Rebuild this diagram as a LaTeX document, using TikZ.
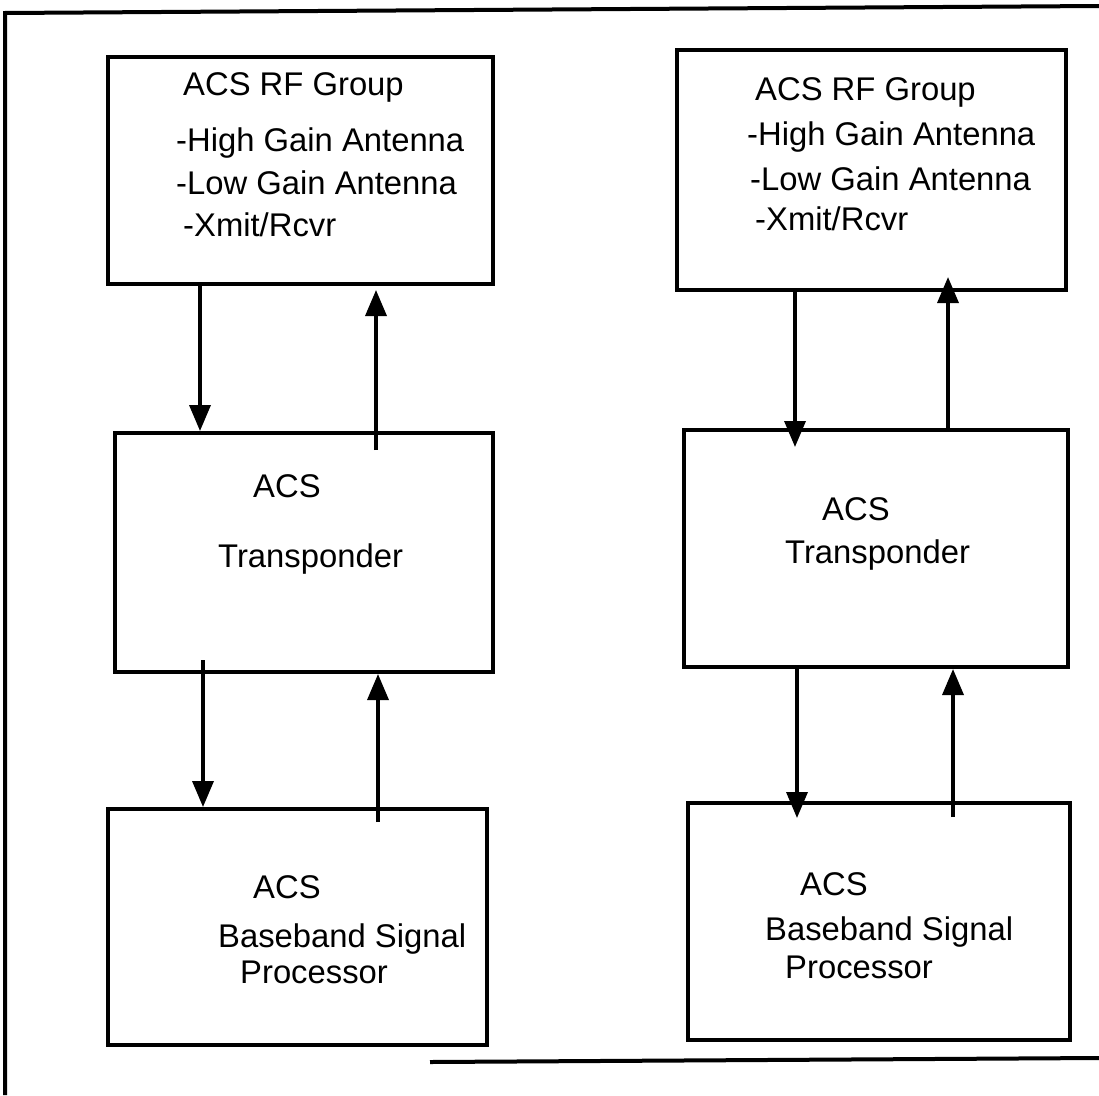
\documentclass[tikz,border=0pt]{standalone}
\usepackage{fontspec}
\setmainfont{Liberation Sans}
\usetikzlibrary{arrows.meta}
\begin{document}
\begin{tikzpicture}[x=1pt,y=-1pt,
  blk/.style={draw=black, line width=4pt, rectangle, inner sep=0pt, fill=none},
  lbl/.style={anchor=base west, inner sep=0pt, font=\fontsize{32.8}{38}\selectfont},
  flow/.style={line width=3.5pt, -{Triangle[width=21pt,length=26pt]}},
  frm/.style={line width=4pt}]
\useasboundingbox (0,0) rectangle (1099,1095);
% outer frame
\coordinate (fbl) at (5,1095);
\coordinate (ftl) at (5,13);
\coordinate (ftr) at (1099,6);
\coordinate (fbs) at (430,1062);
\coordinate (fbe) at (1099,1058);
\draw[frm] (fbl) -- (ftl) -- (ftr);
\draw[frm] (fbs) -- (fbe);
% left column boxes
\node[blk, minimum width=385pt, minimum height=227pt] (rfL) at (300.5,170.5) {};
\node[blk, minimum width=378pt, minimum height=239pt] (trL) at (304,552.5) {};
\node[blk, minimum width=379pt, minimum height=236pt] (bbL) at (297.5,927) {};
% right column boxes
\node[blk, minimum width=389pt, minimum height=240pt] (rfR) at (871.5,170) {};
\node[blk, minimum width=384pt, minimum height=237pt] (trR) at (876,548.5) {};
\node[blk, minimum width=382pt, minimum height=237pt] (bbR) at (879,921.5) {};
% left texts
\node[lbl] (tL1) at (183,95) {ACS RF Group};
\node[lbl] (tL2) at (176,151) {-High Gain Antenna};
\node[lbl] (tL3) at (176,194) {-Low Gain Antenna};
\node[lbl] (tL4) at (183,236) {-Xmit/Rcvr};
\node[lbl] (tL5) at (253,497) {ACS};
\node[lbl] (tL6) at (218,567) {Transponder};
\node[lbl] (tL7) at (253,898) {ACS};
\node[lbl] (tL8) at (218,947) {Baseband Signal};
\node[lbl] (tL9) at (240,983) {Processor};
% right texts
\node[lbl] (tR1) at (755,100) {ACS RF Group};
\node[lbl] (tR2) at (747,145) {-High Gain Antenna};
\node[lbl] (tR3) at (750,190) {-Low Gain Antenna};
\node[lbl] (tR4) at (755,230) {-Xmit/Rcvr};
\node[lbl] (tR5) at (822,520) {ACS};
\node[lbl] (tR6) at (785,563) {Transponder};
\node[lbl] (tR7) at (800,895) {ACS};
\node[lbl] (tR8) at (765,940) {Baseband Signal};
\node[lbl] (tR9) at (785,978) {Processor};
% arrow end points
\coordinate (a2s) at (376,450);
\coordinate (a2e) at (376,290);
\coordinate (a3s) at (203,660);
\coordinate (a4s) at (378,822);
\coordinate (a5e) at (795,447);
\coordinate (a6e) at (948,277);
\coordinate (a7e) at (797,818);
\coordinate (a8s) at (953,817);
% left arrows
\draw[flow] (200,0 |- rfL.south) -- (200,0 |- trL.north);
\draw[flow] (a2s) -- (a2e);
\draw[flow] (a3s) -- (203,0 |- bbL.north);
\draw[flow] (a4s) -- (378,0 |- trL.south);
% right arrows
\draw[flow] (795,0 |- rfR.south) -- (a5e);
\draw[flow] (948,0 |- trR.north) -- (a6e);
\draw[flow] (797,0 |- trR.south) -- (a7e);
\draw[flow] (a8s) -- (953,0 |- trR.south);
\end{tikzpicture}
\end{document}
